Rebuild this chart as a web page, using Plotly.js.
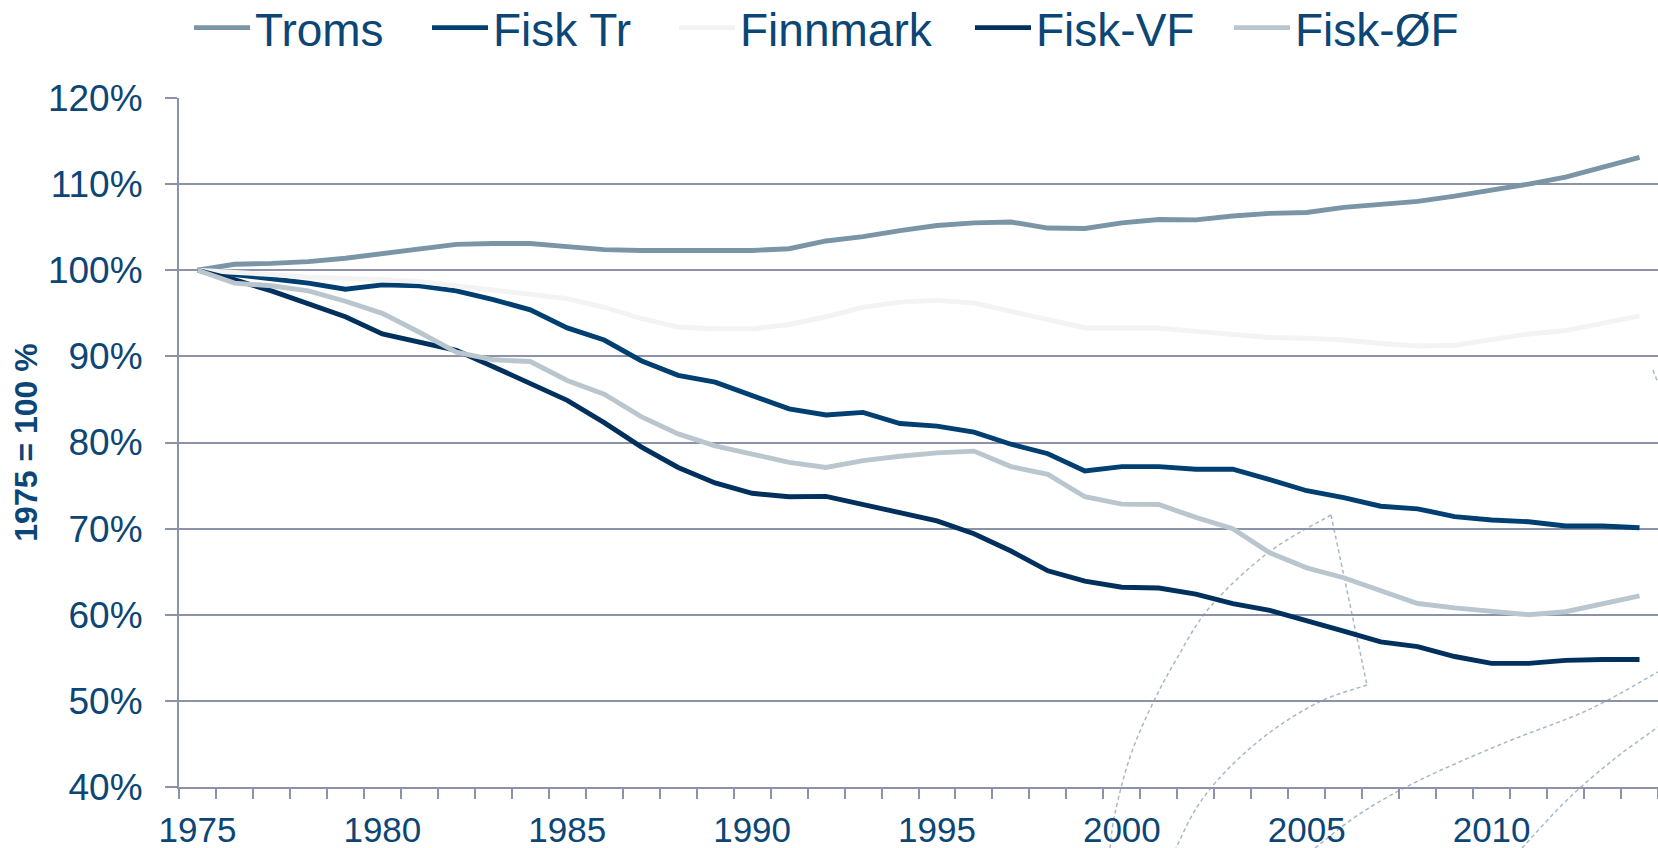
<!DOCTYPE html>
<html>
<head>
<meta charset="utf-8">
<script src="https://cdn.plot.ly/plotly-3.0.1.min.js"></script>
<style>html,body{margin:0;padding:0;background:#fff;}#chart{width:1658px;height:848px;}</style>
</head>
<body>
<div id="chart"></div>
<script>
// ---- data ----
const years = [1975,1976,1977,1978,1979,1980,1981,1982,1983,1984,1985,1986,1987,1988,1989,1990,1991,1992,1993,1994,1995,1996,1997,1998,1999,2000,2001,2002,2003,2004,2005,2006,2007,2008,2009,2010,2011,2012,2013,2014];
const yearLabels = [1975,1980,1985,1990,1995,2000,2005,2010];

const troms = [100,100.7,100.8,101.0,101.4,101.9,102.4,103.0,103.1,103.1,102.75,102.4,102.3,102.25,102.3,102.3,102.5,103.4,103.9,104.6,105.2,105.5,105.6,104.9,104.85,105.5,105.9,105.85,106.3,106.6,106.7,107.3,107.6,108.0,108.6,109.25,110.0,110.8,112.0,113.1];
const fiskTr = [100,99.5,98.9,98.5,97.8,98.3,98.2,97.6,96.6,95.4,93.3,91.9,89.5,87.8,87.0,85.5,83.9,83.2,83.5,82.2,81.9,81.2,79.8,78.7,76.7,77.2,77.2,76.9,76.9,75.7,74.4,73.6,72.6,72.3,71.4,71.0,70.8,70.3,70.3,70.1];
const finnmark = [100,99.8,99.5,99.2,99.1,98.9,98.7,98.2,97.7,97.3,96.7,95.7,94.4,93.4,93.2,93.2,93.7,94.6,95.7,96.3,96.5,96.2,95.2,94.3,93.3,93.3,93.3,92.9,92.6,92.2,92.1,91.9,91.5,91.2,91.3,91.9,92.6,93.0,93.9,94.7];
const fiskVF = [100,98.9,97.6,96.1,94.6,92.6,91.6,90.7,88.8,86.9,84.9,82.3,79.5,77.1,75.3,74.1,73.7,73.75,72.8,71.9,70.9,69.4,67.4,65.1,63.9,63.2,63.1,62.4,61.3,60.5,59.35,58.1,56.85,56.3,55.15,54.35,54.35,54.7,54.8,54.8];
const fiskOF = [100,98.5,98.2,97.6,96.4,95.0,92.8,90.5,89.6,89.4,87.2,85.6,83.0,81.0,79.6,78.6,77.7,77.1,77.9,78.4,78.8,79.0,77.2,76.3,73.7,72.85,72.8,71.3,70.0,67.2,65.45,64.3,62.8,61.3,60.8,60.45,60.0,60.35,61.3,62.2];

const seriesNames = ['Troms','Fisk Tr','Finnmark','Fisk-VF','Fisk-ØF'];
const seriesValues = [troms, fiskTr, finnmark, fiskVF, fiskOF];
const seriesColors = ['#7A95A6','#003F72','#F3F3F3','#00305E','#BAC6CE'];

// ---- styling / layout ----
const textColor = '#0B4676';
const gridColor = '#8C93A8';
const W = 1658, H = 848, L = 179, R = 0, T = 98, B = 61;
const pw = W - L - R, ph = H - T - B;
// left pixel where each legend entry's line sample starts
const legendStartPx = [195, 433, 680, 976, 1235];
const legendIds = ['legend','legend2','legend3','legend4','legend5'];

const traces = seriesNames.map((n, i) => ({
  type: 'scatter', mode: 'lines', name: n,
  x: years, y: seriesValues[i],
  line: {color: seriesColors[i], width: 4.9},
  legend: legendIds[i],
  hoverinfo: 'skip'
}));

// decorative dashed background arcs (pixel paths, converted to paper coords)
const decoPaths = [
  [[1110,848],[1115,813],[1130,757],[1151,707],[1176,660],[1210,607],[1269,552],[1331,515]],
  [[1331,515],[1367,685]],
  [[1367,685],[1319,702],[1269,733],[1227,770],[1197,807],[1176,848]],
  [[1315,848],[1361,813],[1420,780],[1504,743],[1588,710],[1658,672]],
  [[1522,848],[1567,800],[1613,760],[1658,727]],
  [[1653,370],[1658,383]]
];
function toPaper(p){ return [(p[0]-L)/pw, (H-B-p[1])/ph]; }
function smoothPath(pts){
  const q = pts.map(toPaper);
  let d = 'M' + q[0][0] + ',' + q[0][1];
  if (q.length === 2) return d + ' L' + q[1][0] + ',' + q[1][1];
  for (let i = 0; i < q.length - 1; i++) {
    const p0 = q[Math.max(0,i-1)], p1 = q[i], p2 = q[i+1], p3 = q[Math.min(q.length-1,i+2)];
    const c1 = [p1[0] + (p2[0]-p0[0])/6, p1[1] + (p2[1]-p0[1])/6];
    const c2 = [p2[0] - (p3[0]-p1[0])/6, p2[1] - (p3[1]-p1[1])/6];
    d += ' C' + c1[0] + ',' + c1[1] + ' ' + c2[0] + ',' + c2[1] + ' ' + p2[0] + ',' + p2[1];
  }
  return d;
}
const shapes = decoPaths.map(p => ({
  type: 'path', xref: 'paper', yref: 'paper', layer: 'below',
  path: smoothPath(p),
  line: {color: '#A9B8C5', width: 1.5, dash: '4px,3px'}
}));

const layout = {
  width: W, height: H,
  margin: {l: L, r: R, t: T, b: B, pad: 0, autoexpand: false},
  paper_bgcolor: '#ffffff',
  plot_bgcolor: 'rgba(0,0,0,0)',
  font: {family: 'Liberation Sans, Arial, sans-serif', color: textColor},
  showlegend: true,
  xaxis: {
    range: [1974.5, 2014.5], tickmode: 'array', tickvals: yearLabels,
    ticktext: yearLabels.map(String), ticks: '', showgrid: false,
    showline: true, linecolor: gridColor, linewidth: 2, zeroline: false,
    tickfont: {size: 35, color: textColor}, ticklabelstandoff: 11,
    minor: {ticks: 'outside', ticklen: 10, tickwidth: 2, tickcolor: gridColor,
            tickmode: 'linear', tick0: 1974.5, dtick: 1, showgrid: false},
    automargin: false, fixedrange: true
  },
  yaxis: {
    range: [40, 120], tickmode: 'linear', tick0: 40, dtick: 10, ticksuffix: '%',
    ticks: 'outside', ticklen: 12, tickwidth: 2, tickcolor: gridColor,
    showgrid: true, gridcolor: gridColor, gridwidth: 2,
    showline: true, linecolor: gridColor, linewidth: 2, zeroline: false,
    tickfont: {size: 37, color: textColor}, ticklabelstandoff: 15,
    title: {text: '1975 = 100 %', font: {size: 32, color: textColor, weight: 'bold'}, standoff: 1},
    automargin: false, fixedrange: true
  },
  shapes: shapes
};
legendIds.forEach((id, i) => {
  layout[id] = {
    orientation: 'h', x: (legendStartPx[i] - 6 - L) / pw, xanchor: 'left',
    y: 1.102, yanchor: 'middle',
    font: {size: 46, color: textColor}, itemwidth: 56, bgcolor: 'rgba(0,0,0,0)'
  };
});

Plotly.newPlot('chart', traces, layout, {displayModeBar: false, staticPlot: true});
</script>
</body>
</html>
